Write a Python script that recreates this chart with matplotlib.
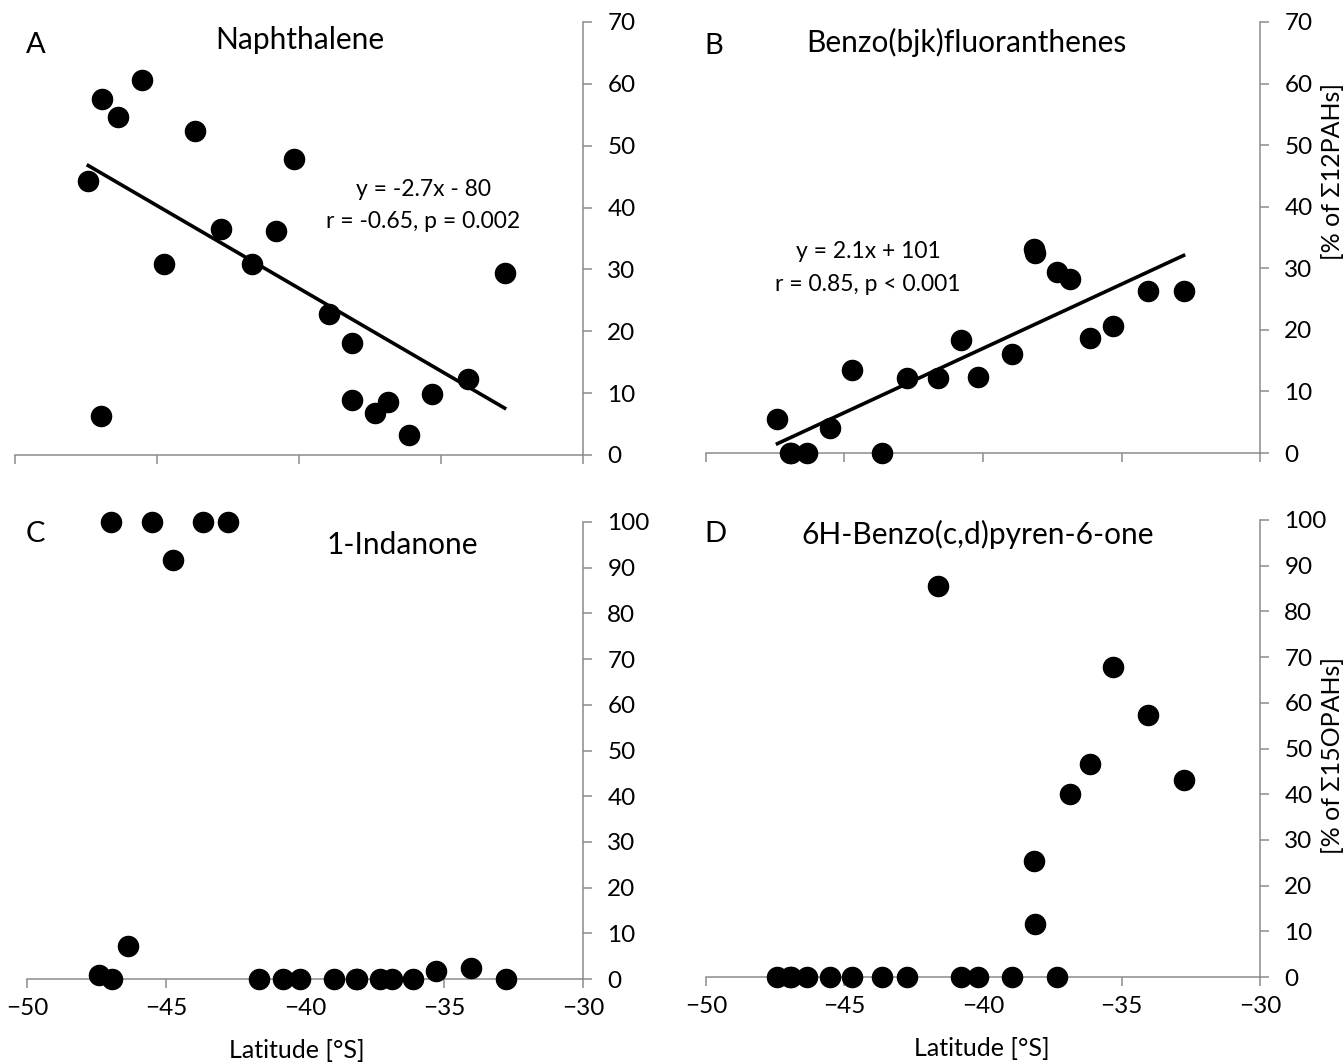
import matplotlib
matplotlib.use("Agg")
import matplotlib.pyplot as plt
import numpy as np

plt.rcParams['font.family'] = ['Lato', 'DejaVu Sans']

# latitude das estações (graus, negativo = sul)
latitude = [-47.42, -46.97, -46.93, -46.37, -45.52, -44.74, -43.66, -42.76, -41.64, -40.80,
            -40.17, -38.96, -38.15, -38.12, -37.32, -36.86, -36.13, -35.30, -34.04, -32.76]

# % de cada composto
naphthalene = [44.3, 6.3, 57.6, 54.7, 60.6, 30.8, 52.3, 36.5, 30.8, 36.2,
               47.9, 22.8, 18.1, 8.9, 6.8, 8.6, 3.3, 9.8, 12.3, 29.4]
benzo_bjk = [5.5, 0, 0, 0, 4.0, 13.4, 0, 12.2, 12.2, 18.3,
             12.3, 16.1, 33.2, 32.5, 29.4, 28.3, 18.7, 20.6, 26.3, 26.3]
indanone = [0.8, 100, 0, 7.3, 100, 91.7, 100, 100, 0, 0,
            0, 0, 0, 0, 0, 0, 0, 1.8, 2.4, 0]
benzopyrenone = [0, 0, 0, 0, 0, 0, 0, 0, 85.6, 0,
                 0, 0, 25.4, 11.6, 0, 40.0, 46.5, 67.9, 57.4, 43.1]

W, H = 1344, 1064
fig = plt.figure(figsize=(W / 100, H / 100), dpi=100)

def add_ax(x0, x1, ytop, ybot):
    return fig.add_axes([x0 / W, 1 - ybot / H, (x1 - x0) / W, (ybot - ytop) / H])

def style(ax, ymax, step, xlabels):
    ax.set_xlim(-50, -30)
    ax.set_ylim(0, ymax)
    ax.set_xticks(range(-50, -29, 5))
    ax.set_yticks(range(0, ymax + 1, step))
    for s in ['left', 'top']:
        ax.spines[s].set_visible(False)
    for s in ['right', 'bottom']:
        ax.spines[s].set_color('#8c8c8c')
        ax.spines[s].set_linewidth(1.1)
    ax.yaxis.tick_right()
    ax.tick_params(axis='both', direction='out', length=6.5, width=1.1, color='#8c8c8c',
                   labelsize=17.5)
    ax.tick_params(axis='y', pad=11)
    ax.tick_params(axis='x', pad=7)
    if not xlabels:
        ax.set_xticklabels([])
    ax.patch.set_visible(False)

def pts(ax, y):
    ax.plot(latitude, y, 'o', color='black', ms=14.5, clip_on=False, zorder=5)

def trend(ax, y):
    x = np.array(latitude)
    m, b = np.polyfit(x, y, 1)
    xs = np.array([x.min(), x.max()])
    ax.plot(xs, m * xs + b, color='black', lw=2.6, zorder=4)

axA = add_ax(15, 583, 22, 455)
axB = add_ax(706, 1260, 22, 453)
axC = add_ax(27, 583, 522, 979)
axD = add_ax(706, 1260, 520, 977)

style(axA, 70, 10, False)
style(axB, 70, 10, False)
style(axC, 100, 10, True)
style(axD, 100, 10, True)

pts(axA, naphthalene); trend(axA, naphthalene)
pts(axB, benzo_bjk); trend(axB, benzo_bjk)
pts(axC, indanone)
pts(axD, benzopyrenone)

# letras e títulos
fig.text(36 / W, 1 - 45 / H, 'A', fontsize=21, ha='center', va='center')
fig.text(714 / W, 1 - 46 / H, 'B', fontsize=21, ha='center', va='center')
fig.text(35 / W, 1 - 534 / H, 'C', fontsize=21, ha='center', va='center')
fig.text(715 / W, 1 - 534 / H, 'D', fontsize=21, ha='center', va='center')

fig.text(300 / W, 1 - 40 / H, 'Naphthalene', fontsize=21.5, ha='center', va='center')
fig.text(966 / W, 1 - 42 / H, 'Benzo(bjk)fluoranthenes', fontsize=21.5, ha='center', va='center')
fig.text(402 / W, 1 - 545 / H, '1-Indanone', fontsize=21.5, ha='center', va='center')
fig.text(978 / W, 1 - 534 / H, '6H-Benzo(c,d)pyren-6-one', fontsize=21.5, ha='center', va='center')

# equações
fig.text(423 / W, 1 - 190 / H, 'y = -2.7x - 80', fontsize=16.5, ha='center', va='center')
fig.text(423 / W, 1 - 222 / H, 'r = -0.65, p = 0.002', fontsize=16.5, ha='center', va='center')
fig.text(868 / W, 1 - 252 / H, 'y = 2.1x + 101', fontsize=16.5, ha='center', va='center')
fig.text(868 / W, 1 - 284 / H, 'r = 0.85, p < 0.001', fontsize=16.5, ha='center', va='center')

# eixos
fig.text(1333 / W, 1 - 172 / H, '[% of Σ12PAHs]', fontsize=18, rotation=90, ha='center', va='center')
fig.text(1333 / W, 1 - 755 / H, '[% of Σ15OPAHs]', fontsize=18, rotation=90, ha='center', va='center')
fig.text(297 / W, 1 - 1050 / H, 'Latitude [°S]', fontsize=18, ha='center', va='center')
fig.text(982 / W, 1 - 1048 / H, 'Latitude [°S]', fontsize=18, ha='center', va='center')

fig.savefig('out.png', dpi=100)
